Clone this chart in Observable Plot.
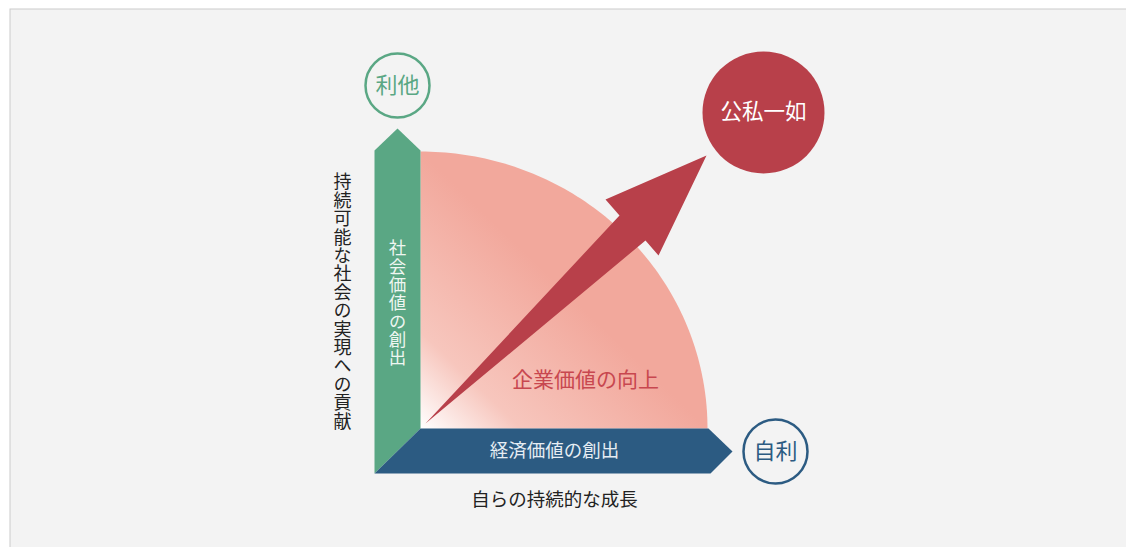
<!DOCTYPE html>
<html>
<head>
<meta charset="utf-8">
<script src="https://cdn.jsdelivr.net/npm/d3@7"></script>
<script src="https://cdn.jsdelivr.net/npm/@observablehq/plot@0.6"></script>
<style>
  html, body { margin: 0; padding: 0; background: #ffffff; }
</style>
</head>
<body>
<div id="chart"></div>
<script>
// ---- Diagram data (origin = corner of the two axes, y pointing up) ----
const socialArrow = [ // 社会価値の創出 (green, vertical)
  {x: -46, y: -45}, {x: -46, y: 278}, {x: -23, y: 300}, {x: 0, y: 278}, {x: 0, y: 0}
];
const economicArrow = [ // 経済価値の創出 (blue, horizontal)
  {x: -46, y: -45}, {x: 0, y: 0}, {x: 288, y: 0}, {x: 312, y: -23}, {x: 290, y: -45}
];
const growthArrow = [ // red arrow toward 公私一如
  {x: 5, y: 5}, {x: 199, y: 213}, {x: 185, y: 229}, {x: 286, y: 273},
  {x: 238, y: 173}, {x: 225, y: 188}
];
const valueArea = {rx: 287, ry: 277}; // 企業価値 quarter area radii
const circles = [
  {label: "利他", x: -23, y: 343, r: 32, kind: "outline", color: "#5aa784"},
  {label: "自利", x: 355, y: -23, r: 32, kind: "outline", color: "#2c5b82"},
  {label: "公私一如", x: 343, y: 316, r: 61, kind: "solid", color: "#b8404a"}
];
const axisTexts = [
  {label: "経済価値の創出", x: 134, y: -23},
  {label: "企業価値の向上", x: 165, y: 48}
];
const verticalLabels = [
  {label: "社会価値の創出", x: -23, y: 131},
  {label: "持続可能な社会の実現への貢献", x: -78, y: 133}
];
const bottomLabel = {label: "自らの持続的な成長", x: 134, y: -72};
const panel = {x1: -410, x2: 720, y1: 419, y2: -140};

// quarter ellipse outline
const arcPts = [{x: 0, y: 0}];
for (let i = 0; i <= 90; i++) {
  const a = (i / 90) * Math.PI / 2;
  arcPts.push({x: valueArea.rx * Math.cos(a), y: valueArea.ry * Math.sin(a)});
}

const font = "'Noto Sans CJK JP', 'Noto Sans', sans-serif";

const gradient = () => {
  const defs = d3.create("svg:defs");
  const g = defs.append("linearGradient")
    .attr("id", "valueGrad")
    .attr("x1", "0").attr("y1", "1").attr("x2", "0.5").attr("y2", "0.5");
  g.append("stop").attr("offset", "0").attr("stop-color", "#ffffff");
  g.append("stop").attr("offset", "0.35").attr("stop-color", "#f7c6bd");
  g.append("stop").attr("offset", "1").attr("stop-color", "#f2a89c");
  return defs.node();
};

const chart = Plot.plot({
  width: 1126,
  height: 547,
  margin: 0,
  x: {domain: [-420, 706], range: [0, 1126], axis: null},
  y: {domain: [-119, 428], range: [547, 0], axis: null},
  style: {background: "#ffffff", fontFamily: font, overflow: "visible"},
  marks: [
    gradient,
    Plot.rect([panel], {x1: "x1", x2: "x2", y1: "y1", y2: "y2", fill: "#f3f3f3", stroke: "#cccccc", strokeWidth: 1}),
    Plot.line(arcPts, {x: "x", y: "y", fill: "url(#valueGrad)", stroke: "none", curve: "linear"}),
    Plot.line(socialArrow, {x: "x", y: "y", fill: "#5aa784", stroke: "none"}),
    Plot.line(economicArrow, {x: "x", y: "y", fill: "#2c5b82", stroke: "none"}),
    Plot.line(growthArrow, {x: "x", y: "y", fill: "#b8404a", stroke: "none"}),
    Plot.dot(circles.filter(d => d.kind === "outline"), {x: "x", y: "y", r: 32, fill: "#f3f3f3", stroke: d => d.color, strokeWidth: 2.5}),
    Plot.dot(circles.filter(d => d.kind === "solid"), {x: "x", y: "y", r: 61, fill: d => d.color, stroke: "none"}),
    Plot.text(circles.filter(d => d.kind === "outline"), {x: "x", y: "y", text: "label", fill: d => d.color, fontSize: 22, fontWeight: 400}),
    Plot.text(circles.filter(d => d.kind === "solid"), {x: "x", y: "y", text: "label", fill: "#ffffff", fontSize: 21.5, fontWeight: 400}),
    Plot.text([axisTexts[0]], {x: "x", y: "y", text: "label", fill: "#e6edf3", fontSize: 18.5}),
    Plot.text([axisTexts[1]], {x: "x", y: "y", text: "label", fill: "#c8474f", fontSize: 21}),
    Plot.text([verticalLabels[0]], {x: "x", y: "y", text: "label", fill: "#eef6f1", fontSize: 17.5}),
    Plot.text([verticalLabels[1]], {x: "x", y: "y", text: "label", fill: "#222222", fontSize: 18}),
    Plot.text([bottomLabel], {x: "x", y: "y", text: "label", fill: "#222222", fontSize: 18.5})
  ]
});

// set the two vertical labels in vertical (tategaki) writing mode
const verticalSpacing = {"社会価値の創出": "0.8px", "持続可能な社会の実現への貢献": "0.4px"};
d3.select(chart).selectAll("text").each(function() {
  const t = this.textContent;
  if (verticalLabels.some(d => d.label === t)) {
    const el = d3.select(this);
    el.attr("dy", null).attr("writing-mode", "vertical-rl")
      .style("writing-mode", "vertical-rl")
      .style("text-orientation", "upright")
      .style("letter-spacing", verticalSpacing[t]);
  }
});
document.getElementById("chart").appendChild(chart);
</script>
</body>
</html>
